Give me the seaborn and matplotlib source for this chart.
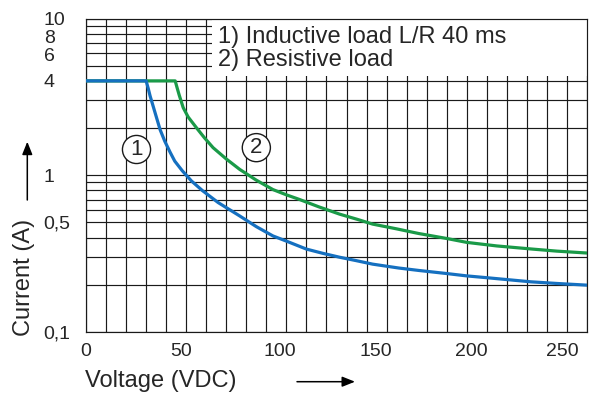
import numpy as np
import pandas as pd
import matplotlib
matplotlib.use("Agg")
import matplotlib.pyplot as plt
import matplotlib.transforms as mtransforms
import seaborn as sns
from matplotlib.patches import Rectangle, FancyArrowPatch
from matplotlib.ticker import FixedLocator, MultipleLocator, NullFormatter, LogLocator

# Curve 1: inductive load L/R 40 ms
inductive_v = [0, 30, 31, 32, 33, 35.2, 37, 39.3, 42, 44.3, 48, 52.6, 58, 65.9, 76.7, 85, 93.3, 100, 110,
               118, 126.5, 135, 143, 156, 166, 180, 190, 200, 210, 222, 235, 250]
inductive_i = [4, 4, 3.6, 3.2, 2.9, 2.33, 1.95, 1.65, 1.4, 1.23, 1.07, 0.92, 0.80, 0.67, 0.55, 0.47, 0.41, 0.38, 0.338,
               0.318, 0.30, 0.285, 0.271, 0.256, 0.247, 0.236, 0.228, 0.222, 0.216, 0.209, 0.204, 0.199]

# Curve 2: resistive load
resistive_v = [0, 44.5, 45.5, 46.5, 48.5, 51, 55.1, 59, 63.4, 70, 76.7, 85, 93.3, 100, 106.6, 116, 126.5,
               135, 143, 155, 166, 180, 190, 205, 222.8, 235, 250]
resistive_i = [4, 4, 3.6, 3.25, 2.70, 2.35, 2.01, 1.74, 1.50, 1.27, 1.09, 0.93, 0.81, 0.75, 0.70, 0.63, 0.565,
               0.525, 0.488, 0.455, 0.425, 0.395, 0.373, 0.354, 0.338, 0.328, 0.319]

y_ticks = [0.1, 0.5, 1, 4, 6, 8, 10]
y_tick_labels = ["0,1", "0,5", "1", "4", "6", "8", "10"]
x_ticks = [0, 50, 100, 150, 200, 250]
legend_lines = ["1) Inductive load L/R 40 ms", "2) Resistive load"]

sns.set_style("white")
plt.rcParams["font.family"] = ["Liberation Sans", "DejaVu Sans"]

blue = "#1570c0"
green = "#1a9a48"
grid_kw = dict(color="#1a1a1a", linewidth=0.85)

fig = plt.figure(figsize=(6.09, 3.94), dpi=100)
ax = fig.add_axes([86 / 609, 1 - 332 / 394, 501 / 609, (332 - 18.5) / 394])

df1 = pd.DataFrame({"V": inductive_v, "I": inductive_i})
df2 = pd.DataFrame({"V": resistive_v, "I": resistive_i})
sns.lineplot(data=df2, x="V", y="I", ax=ax, color=green, linewidth=2.3, zorder=3)
sns.lineplot(data=df1, x="V", y="I", ax=ax, color=blue, linewidth=2.3, zorder=4)

ax.set_yscale("log")
ax.set_xlim(0, 250)
ax.set_ylim(0.1, 10)

ax.xaxis.set_major_locator(FixedLocator(x_ticks))
ax.xaxis.set_minor_locator(MultipleLocator(10))
ax.set_xticklabels([str(t) for t in x_ticks], fontsize=14)
ax.yaxis.set_major_locator(FixedLocator(y_ticks))
ax.yaxis.set_minor_locator(LogLocator(base=10, subs=np.arange(2, 10)))
ax.yaxis.set_minor_formatter(NullFormatter())
ax.set_yticklabels(y_tick_labels, fontsize=14)

ax.set_axisbelow(True)
ax.grid(True, which="both", axis="both", **grid_kw)
ax.tick_params(axis="x", which="both", length=0, pad=8)
ax.tick_params(axis="y", which="both", length=3, width=0.85, color="#1a1a1a", pad=27.5)

# the reference labels sit a little off their grid lines
x_shift = [0, -4.7, -6.8, -10.3, -15, -25]
for lab, dx in zip(ax.get_xticklabels(), x_shift):
    lab.set_transform(lab.get_transform() + mtransforms.ScaledTranslation(dx / 100, 0, fig.dpi_scale_trans))
y_shift = [0, 0, 0, 0, -1.5, -3, 0]
for lab, dy in zip(ax.get_yticklabels(), y_shift):
    lab.set_horizontalalignment("left")
    lab.set_transform(lab.get_transform() + mtransforms.ScaledTranslation(0, dy / 100, fig.dpi_scale_trans))

for s in ax.spines.values():
    s.set_color("#1a1a1a")
    s.set_linewidth(0.85)
ax.set_xlabel("")
ax.set_ylabel("")

# white box for the legend text
ax.add_patch(Rectangle((63, 4.3), 187, 5.7, facecolor="white", edgecolor="none", zorder=1.5))
ax.text(66, 7.6, legend_lines[0], fontsize=17, va="center", ha="left", zorder=5)
ax.text(66, 5.4, legend_lines[1], fontsize=17, va="center", ha="left", zorder=5)

# circled curve numbers
circ = dict(boxstyle="circle,pad=0.16", facecolor="white", edgecolor="#1a1a1a", linewidth=1)
ax.text(25.2, 1.46, "1", fontsize=16, ha="center", va="center", bbox=circ, zorder=5)
ax.text(85, 1.50, "2", fontsize=16, ha="center", va="center", bbox=circ, zorder=5)

# axis labels with arrows
fig.text(85 / 609, 1 - 381 / 394, "Voltage (VDC)", fontsize=17, ha="left", va="center")
fig.text(24 / 609, 1 - 277 / 394, "Current (A)", fontsize=17, rotation=90, ha="center", va="center")
arrow = dict(arrowstyle="-|>,head_length=0.55,head_width=0.22", mutation_scale=14,
             color="black", lw=1.1, shrinkA=0, shrinkB=0, transform=fig.transFigure)
fig.add_artist(FancyArrowPatch((297 / 609, 1 - 381.7 / 394), (355 / 609, 1 - 381.7 / 394), **arrow))
fig.add_artist(FancyArrowPatch((27.3 / 609, 1 - 200 / 394), (27.3 / 609, 1 - 141.7 / 394), **arrow))

fig.savefig("out.png", dpi=100)
